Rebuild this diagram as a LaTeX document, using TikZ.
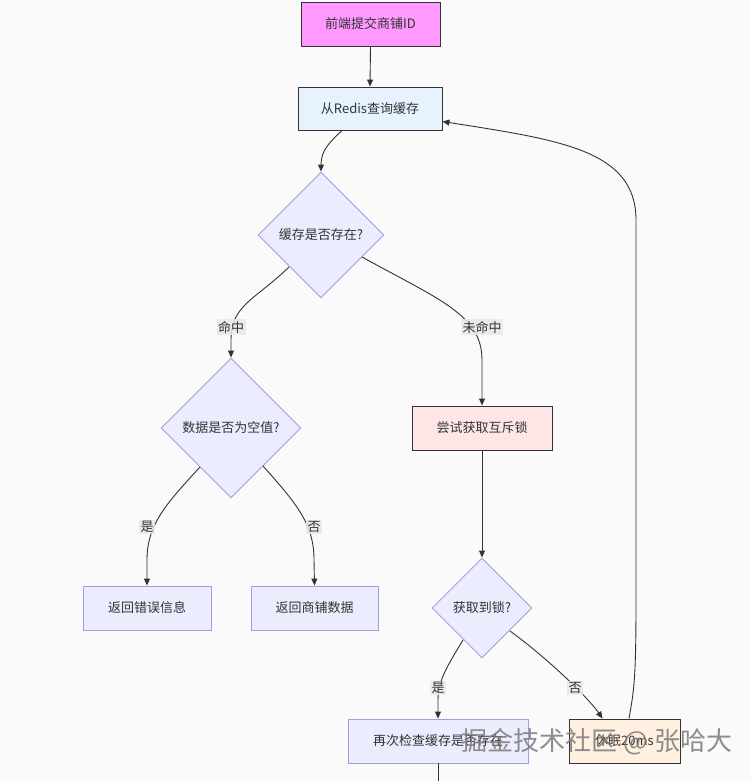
\documentclass[tikz,border=0pt]{standalone}
\usepackage{fontspec}
\setmainfont{Noto Sans CJK SC}
\usetikzlibrary{shapes.geometric,arrows.meta}
\definecolor{bg}{HTML}{FAFAFA}
\definecolor{edge}{HTML}{333333}
\definecolor{purp}{HTML}{A69BE0}
\definecolor{defill}{HTML}{ECECFF}
\definecolor{afill}{HTML}{FF99FF}
\definecolor{bfill}{HTML}{E6F3FF}
\definecolor{efill}{HTML}{FFE6E6}
\definecolor{jfill}{HTML}{FFF0E0}
\definecolor{lblbg}{HTML}{E8E8E8}
\definecolor{wmc}{HTML}{7A7A7A}
\tikzset{
  txt/.style={font=\fontsize{13}{15}\selectfont, text=edge},
  boxA/.style={txt, draw=edge, line width=0.9pt, rectangle, inner sep=0pt},
  boxD/.style={txt, draw=purp, line width=0.9pt, fill=defill, rectangle, inner sep=0pt},
  dia/.style={txt, draw=purp, line width=0.9pt, fill=defill, diamond, aspect=1, inner sep=0pt},
  conn/.style={draw=edge, line width=0.9pt, -{Triangle[length=7pt,width=6pt]}},
  plain/.style={draw=edge, line width=0.9pt},
  lbl/.style={txt, fill=lblbg, fill opacity=0.85, text opacity=1, inner sep=1.5pt},
}
\begin{document}
\begin{tikzpicture}[x=1pt,y=-1pt]
\path[fill=bg] (0,0) rectangle (751,781);
\useasboundingbox (0,0) rectangle (751,781);

\node[boxA, fill=afill, minimum width=139pt, minimum height=44pt] (A) at (370.5,24) {前端提交商铺ID};
\node[boxA, fill=bfill, minimum width=144pt, minimum height=43pt] (B) at (370,108.5) {从Redis查询缓存};
\node[dia, minimum width=126pt, minimum height=126pt] (C) at (321,235) {缓存是否存在?};
\node[dia, minimum width=140pt, minimum height=140pt] (D) at (231,428) {数据是否为空值?};
\node[boxA, fill=efill, minimum width=140pt, minimum height=44pt] (E) at (482,428) {尝试获取互斥锁};
\node[boxD, minimum width=128pt, minimum height=44pt] (F) at (147,608) {返回错误信息};
\node[boxD, minimum width=127pt, minimum height=44pt] (G) at (314.5,608) {返回商铺数据};
\node[dia, minimum width=100pt, minimum height=100pt] (H) at (482,608) {获取到锁?};
\node[boxD, minimum width=180pt, minimum height=44pt] (I) at (438,741) {再次检查缓存是否存在};
\node[boxA, fill=jfill, minimum width=111pt, minimum height=44pt] (J) at (624.5,741) {休眠20ms};
\coordinate (Iend) at (438,781);

% edges
\draw[conn] (A.south) -- (B.north);
\draw[conn] ([xshift=-28pt]B.south) .. controls (330,142) and (321,150) .. (C.north);
\draw[conn] ([xshift=-32pt,yshift=-32pt]C.center) .. controls (255,300) and (231,305) .. (231,340) -- (D.north);
\draw[conn] ([xshift=41pt,yshift=-22pt]C.center) .. controls (440,300) and (482,315) .. (482,360) -- (E.north);
\draw[conn] ([xshift=-31pt,yshift=-39pt]D.center) .. controls (165,505) and (147,525) .. (147,560) -- (F.north);
\draw[conn] ([xshift=32pt,yshift=-38pt]D.center) .. controls (298,505) and (314,525) .. (314,560) -- (G.north);
\draw[conn] (E.south) -- (H.north);
\draw[conn] ([xshift=-19pt,yshift=-32pt]H.center) .. controls (448,665) and (438,680) .. (438,700) -- (I.north);
\draw[conn] ([xshift=28pt,yshift=-23pt]H.center) .. controls (550,660) and (590,700) .. ([xshift=-22pt]J.north);
\draw[conn] ([xshift=4.5pt]J.north) .. controls (634,690) and (636,680) .. (636,600) -- (636,220) .. controls (636,150) and (560,140) .. ([yshift=-13pt]B.east);
\draw[plain] (I.south) -- (Iend);

% edge labels
\node[lbl] (l1) at (231,327) {命中};
\node[lbl] (l2) at (482,327) {未命中};
\node[lbl] (l3) at (147,527) {是};
\node[lbl] (l4) at (314,527) {否};
\node[lbl] (l5) at (438,688) {是};
\node[lbl] (l6) at (575,688) {否};

% watermark
\node[font=\fontsize{26}{28}\selectfont, text=wmc, text opacity=0.85] (wm) at (597,742) {掘金技术社区 @ 张哈大};
\end{tikzpicture}
\end{document}
